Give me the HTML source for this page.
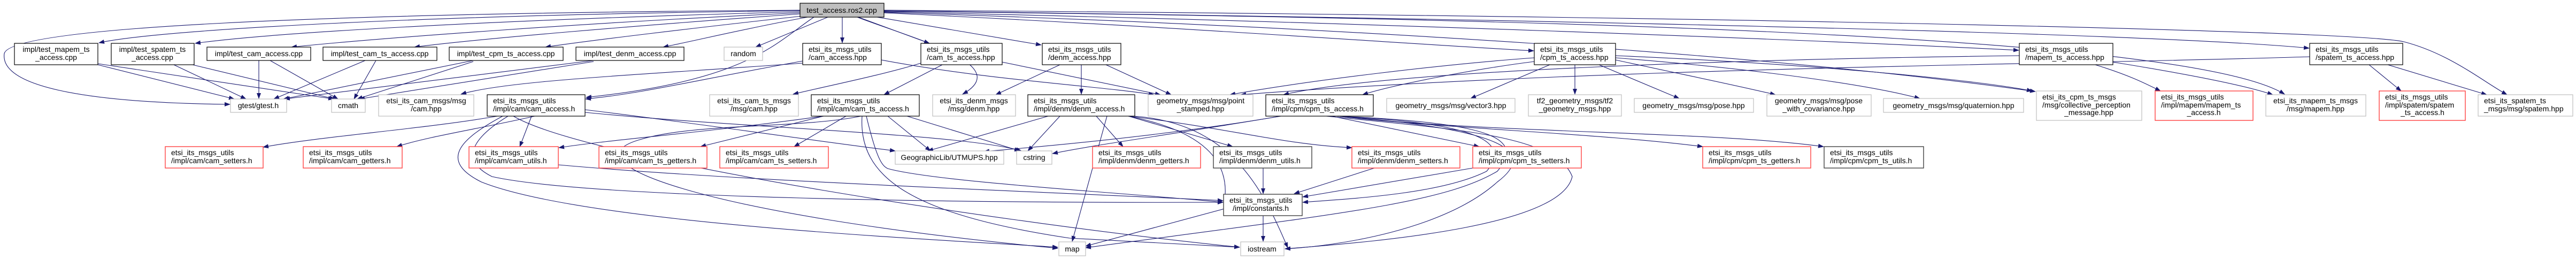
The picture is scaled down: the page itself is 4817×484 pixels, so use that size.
<!DOCTYPE html>
<html><head><meta charset="utf-8"><style>
html,body{margin:0;padding:0;background:#fff;}
svg{display:block;}
text{font-family:"Liberation Sans",sans-serif;font-size:14px;fill:#000;}
.b{fill:#fff;stroke:#000;stroke-width:1.2}
.g{fill:#fff;stroke:#bfbfbf;stroke-width:1.2}
.r{fill:#fff;stroke:#ff4040;stroke-width:1.4}
.d{fill:#fff;stroke:#404040;stroke-width:1.4}
.e path{fill:none;stroke:#191970;stroke-width:1.1;marker-end:url(#a)}
.c{text-anchor:middle}
</style></head><body>
<svg width="4817" height="484" viewBox="0 0 4817 484" xmlns="http://www.w3.org/2000/svg">
<defs><marker id="a" markerWidth="11" markerHeight="8" refX="10" refY="4" orient="auto" markerUnits="userSpaceOnUse"><path d="M0,0 L11,4 L0,8 z" fill="#191970"/></marker></defs>
<g class="e">
<!-- root edges -->
<path d="M1496,20 C800,28 300,55 185,80"/>
<path d="M1496,22 C900,38 500,62 365,81"/>
<path d="M1496,24 C1100,42 700,72 545,88"/>
<path d="M1496,26 C1200,47 900,72 775,88"/>
<path d="M1500,30 C1300,52 1100,76 1020,88"/>
<path d="M1510,32 C1400,52 1300,76 1240,88"/>
<path d="M1548,32 L1413,88"/>
<path d="M1575,32 L1575,80"/>
<path d="M1605,32 L1738,81"/>
<path d="M1640,32 L1947,84"/>
<path d="M1653,24 C2200,50 2600,80 2868,95"/>
<path d="M1653,22 C2500,40 3400,75 3775,94"/>
<path d="M1653,20 C2800,35 4000,60 4318,90"/>
<path d="M1653,19 C3000,28 4400,55 4495,78 C4580,100 4640,150 4688,177"/>
<path d="M1653,21 C3000,35 4100,70 4272,176"/>
<path d="M1653,23 C2500,50 3300,100 3806,171"/>
<path d="M1496,19 C600,25 20,50 8,100 C0,160 150,192 430,195"/>
<path d="M1522,32 C1450,80 1400,150 1096,182"/>
<path d="M1603,32 C1700,70 1900,120 1800,176"/>
<!-- test cpp edges -->
<path d="M183,121 L438,185"/><path d="M183,119 L624,185"/>
<path d="M325,121 L460,185"/><path d="M360,121 L626,185"/>
<path d="M484,113 L484,184"/><path d="M505,113 L632,185"/>
<path d="M683,113 L512,185"/><path d="M703,113 L662,185"/>
<path d="M885,113 L530,185"/><path d="M885,115 L668,185"/>
<path d="M1110,113 L532,185"/><path d="M1110,115 L672,185"/>
<!-- *_access.hpp edges -->
<path d="M1501,118 C1200,140 950,150 862,176"/>
<path d="M1501,114 C1300,150 1200,175 1095,185"/>
<path d="M1648,112 C1850,150 2050,160 2158,177"/>
<path d="M1722,118 C1650,140 1550,160 1483,176"/>
<path d="M1762,121 L1653,177"/>
<path d="M1874,116 L2170,177"/>
<path d="M1982,121 L1862,177"/>
<path d="M2022,121 L2022,176"/>
<path d="M2068,121 L2190,177"/>
<path d="M2869,108 C2700,120 2450,150 2300,177"/>
<path d="M2869,115 C2750,130 2600,160 2548,177"/>
<path d="M2898,121 L2750,184"/>
<path d="M2945,121 L2945,176"/>
<path d="M2990,121 L3140,184"/>
<path d="M3021,112 C3150,140 3250,160 3320,177"/>
<path d="M3021,108 C3300,130 3500,160 3590,184"/>
<path d="M3021,104 C3400,120 3700,150 3800,170"/>
<path d="M3776,104 C3300,110 2600,130 2400,177"/>
<path d="M3918,121 C3980,140 4010,155 4040,170"/>
<path d="M3951,116 C4100,140 4200,160 4250,177"/>
<path d="M4319,106 C3900,120 3000,125 2320,177"/>
<path d="M4430,121 L4490,170"/>
<path d="M4465,121 L4650,177"/>
<!-- cam_access.h -->
<path d="M930,217 C800,240 600,255 492,275"/>
<path d="M1000,217 C900,240 800,255 742,274"/>
<path d="M994,217 L972,274"/>
<path d="M1094,205 C1300,230 1500,260 1674,282"/>
<path d="M1094,210 C1400,240 1800,250 1910,282"/>
<path d="M950,217 C880,260 860,300 920,330 C1100,370 1800,380 2287,378"/>
<path d="M940,217 C860,260 820,300 900,340 C1100,420 1800,450 1978,462"/>
<path d="M960,217 C1100,300 1900,420 2318,462"/>
<!-- cam_ts_access.h -->
<path d="M1540,217 C1300,250 1150,260 1045,276"/>
<path d="M1540,217 L1310,274"/>
<path d="M1582,217 L1485,274"/>
<path d="M1660,217 L1740,282"/>
<path d="M1696,217 L1907,282"/>
<path d="M1620,217 C1640,300 1650,310 1660,315 C1750,340 2100,360 2287,378"/>
<path d="M1612,217 C1605,330 1700,400 2000,445 L2318,462"/>
<path d="M1610,217 C1500,240 1300,230 1200,260 C1050,300 1300,400 1978,464"/>
<!-- denm_access.h -->
<path d="M1960,217 L1735,282"/>
<path d="M1982,217 L1922,282"/>
<path d="M2050,217 L2100,274"/>
<path d="M2110,217 L2305,274"/>
<path d="M2070,217 L2005,451"/>
<path d="M2110,217 C2300,240 2400,270 2528,276"/>
<path d="M2110,217 C2250,245 2300,300 2290,375"/>
<path d="M2120,217 C2300,230 2360,350 2408,463"/>
<!-- cpm_ts_access.h -->
<path d="M2395,217 C2200,250 2000,270 1840,283"/>
<path d="M2395,217 C2200,250 2050,270 1968,287"/>
<path d="M2490,217 L2766,274"/>
<path d="M2500,217 C2700,240 3000,250 3184,274"/>
<path d="M2500,217 C2800,250 3200,245 3410,274"/>
<path d="M2500,217 C2750,230 2830,260 2780,320 C2700,360 2550,370 2436,378"/>
<path d="M2500,217 C2800,230 2850,260 2800,320 C2700,380 2500,400 2030,463"/>
<path d="M2500,217 C2800,240 2880,280 2800,340 C2700,430 2500,460 2403,465"/>
<path d="M2480,217 C2700,240 2910,250 2940,330 C2920,420 2600,450 2403,465"/>
<!-- utils/setters to constants -->
<path d="M2362,314 L2362,362"/>
<path d="M2570,314 L2420,362"/>
<path d="M2754,314 L2436,368"/>
<path d="M1044,308 C1400,340 2000,360 2287,375"/>
<path d="M2290,390 L2030,460"/>
<path d="M2362,403 L2362,451"/>
</g>
<!-- nodes -->
<rect x="1496" y="6" width="157" height="26" fill="#bfbfbf" stroke="#000" stroke-width="1.2"/><text x="1574" y="24" class="c">test_access.ros2.cpp</text>

<rect class="b" x="27" y="81" width="156" height="40"/><text x="105" y="97" class="c">impl/test_mapem_ts</text><text x="105" y="112" class="c">_access.cpp</text>
<rect class="b" x="208" y="81" width="155" height="40"/><text x="285" y="97" class="c">impl/test_spatem_ts</text><text x="285" y="112" class="c">_access.cpp</text>
<rect class="b" x="387" y="88" width="194" height="25"/><text x="484" y="105" class="c">impl/test_cam_access.cpp</text>
<rect class="b" x="604" y="88" width="213" height="25"/><text x="710" y="105" class="c">impl/test_cam_ts_access.cpp</text>
<rect class="b" x="840" y="88" width="213" height="25"/><text x="946" y="105" class="c">impl/test_cpm_ts_access.cpp</text>
<rect class="b" x="1077" y="88" width="202" height="25"/><text x="1178" y="105" class="c">impl/test_denm_access.cpp</text>
<rect class="g" x="1354" y="88" width="72" height="25"/><text x="1390" y="105" class="c">random</text>
<rect class="b" x="1501" y="81" width="147" height="40"/><text x="1512" y="97">etsi_its_msgs_utils</text><text x="1512" y="112">/cam_access.hpp</text>
<rect class="b" x="1722" y="81" width="152" height="40"/><text x="1733" y="97">etsi_its_msgs_utils</text><text x="1733" y="112">/cam_ts_access.hpp</text>
<rect class="b" x="1949" y="81" width="147" height="40"/><text x="1960" y="97">etsi_its_msgs_utils</text><text x="1960" y="112">/denm_access.hpp</text>
<rect class="b" x="2869" y="81" width="152" height="40"/><text x="2880" y="97">etsi_its_msgs_utils</text><text x="2880" y="112">/cpm_ts_access.hpp</text>
<rect class="b" x="3776" y="81" width="175" height="40"/><text x="3787" y="97">etsi_its_msgs_utils</text><text x="3787" y="112">/mapem_ts_access.hpp</text>
<rect class="b" x="4319" y="81" width="174" height="40"/><text x="4330" y="97">etsi_its_msgs_utils</text><text x="4330" y="112">/spatem_ts_access.hpp</text>

<rect class="g" x="431" y="185" width="105" height="25"/><text x="483" y="202" class="c">gtest/gtest.h</text>
<rect class="g" x="620" y="185" width="63" height="25"/><text x="651" y="202" class="c">cmath</text>
<rect class="g" x="708" y="177" width="178" height="40"/><text x="797" y="193" class="c">etsi_its_cam_msgs/msg</text><text x="797" y="208" class="c">/cam.hpp</text>
<rect class="b" x="911" y="177" width="183" height="40"/><text x="922" y="193">etsi_its_msgs_utils</text><text x="922" y="208">/impl/cam/cam_access.h</text>
<rect class="g" x="1327" y="177" width="166" height="40"/><text x="1410" y="193" class="c">etsi_its_cam_ts_msgs</text><text x="1410" y="208" class="c">/msg/cam.hpp</text>
<rect class="b" x="1517" y="177" width="202" height="40"/><text x="1528" y="193">etsi_its_msgs_utils</text><text x="1528" y="208">/impl/cam/cam_ts_access.h</text>
<rect class="g" x="1744" y="177" width="155" height="40"/><text x="1821" y="193" class="c">etsi_its_denm_msgs</text><text x="1821" y="208" class="c">/msg/denm.hpp</text>
<rect class="b" x="1922" y="177" width="200" height="40"/><text x="1933" y="193">etsi_its_msgs_utils</text><text x="1933" y="208">/impl/denm/denm_access.h</text>
<rect class="g" x="2147" y="177" width="196" height="40"/><text x="2245" y="193" class="c">geometry_msgs/msg/point</text><text x="2245" y="208" class="c">_stamped.hpp</text>
<rect class="b" x="2367" y="177" width="201" height="40"/><text x="2378" y="193">etsi_its_msgs_utils</text><text x="2378" y="208">/impl/cpm/cpm_ts_access.h</text>
<rect class="g" x="2593" y="184" width="240" height="26"/><text x="2713" y="202" class="c">geometry_msgs/msg/vector3.hpp</text>
<rect class="g" x="2858" y="177" width="174" height="40"/><text x="2945" y="193" class="c">tf2_geometry_msgs/tf2</text><text x="2945" y="208" class="c">_geometry_msgs.hpp</text>
<rect class="g" x="3056" y="184" width="223" height="26"/><text x="3167" y="202" class="c">geometry_msgs/msg/pose.hpp</text>
<rect class="g" x="3304" y="177" width="195" height="40"/><text x="3401" y="193" class="c">geometry_msgs/msg/pose</text><text x="3401" y="208" class="c">_with_covariance.hpp</text>
<rect class="g" x="3522" y="184" width="262" height="26"/><text x="3653" y="202" class="c">geometry_msgs/msg/quaternion.hpp</text>
<rect class="g" x="3808" y="170" width="197" height="55"/><text x="3819" y="186">etsi_its_cpm_ts_msgs</text><text x="3819" y="201">/msg/collective_perception</text><text x="3906" y="215" class="c">_message.hpp</text>
<rect class="r" x="4030" y="170" width="183" height="55"/><text x="4041" y="186">etsi_its_msgs_utils</text><text x="4041" y="201">/impl/mapem/mapem_ts</text><text x="4121" y="215" class="c">_access.h</text>
<rect class="g" x="4237" y="177" width="187" height="40"/><text x="4330" y="193" class="c">etsi_its_mapem_ts_msgs</text><text x="4330" y="208" class="c">/msg/mapem.hpp</text>
<rect class="r" x="4449" y="170" width="161" height="55"/><text x="4460" y="186">etsi_its_msgs_utils</text><text x="4460" y="201">/impl/spatem/spatem</text><text x="4530" y="215" class="c">_ts_access.h</text>
<rect class="g" x="4634" y="177" width="177" height="40"/><text x="4645" y="193">etsi_its_spatem_ts</text><text x="4645" y="208">_msgs/msg/spatem.hpp</text>

<rect class="r" x="309" y="274" width="183" height="40"/><text x="320" y="290">etsi_its_msgs_utils</text><text x="320" y="305">/impl/cam/cam_setters.h</text>
<rect class="r" x="567" y="274" width="185" height="40"/><text x="578" y="290">etsi_its_msgs_utils</text><text x="578" y="305">/impl/cam/cam_getters.h</text>
<rect class="r" x="877" y="274" width="167" height="40"/><text x="888" y="290">etsi_its_msgs_utils</text><text x="888" y="305">/impl/cam/cam_utils.h</text>
<rect class="r" x="1120" y="274" width="202" height="40"/><text x="1131" y="290">etsi_its_msgs_utils</text><text x="1131" y="305">/impl/cam/cam_ts_getters.h</text>
<rect class="r" x="1346" y="274" width="203" height="40"/><text x="1357" y="290">etsi_its_msgs_utils</text><text x="1357" y="305">/impl/cam/cam_ts_setters.h</text>
<rect class="g" x="1674" y="282" width="203" height="25"/><text x="1775" y="299" class="c">GeographicLib/UTMUPS.hpp</text>
<rect class="g" x="1901" y="282" width="66" height="25"/><text x="1934" y="299" class="c">cstring</text>
<rect class="r" x="2043" y="274" width="202" height="40"/><text x="2054" y="290">etsi_its_msgs_utils</text><text x="2054" y="305">/impl/denm/denm_getters.h</text>
<rect class="d" x="2269" y="274" width="184" height="40"/><text x="2280" y="290">etsi_its_msgs_utils</text><text x="2280" y="305">/impl/denm/denm_utils.h</text>
<rect class="r" x="2528" y="274" width="202" height="40"/><text x="2539" y="290">etsi_its_msgs_utils</text><text x="2539" y="305">/impl/denm/denm_setters.h</text>
<rect class="r" x="2754" y="274" width="203" height="40"/><text x="2765" y="290">etsi_its_msgs_utils</text><text x="2765" y="305">/impl/cpm/cpm_ts_setters.h</text>
<rect class="r" x="3184" y="274" width="202" height="40"/><text x="3195" y="290">etsi_its_msgs_utils</text><text x="3195" y="305">/impl/cpm/cpm_ts_getters.h</text>
<rect class="d" x="3411" y="274" width="186" height="40"/><text x="3422" y="290">etsi_its_msgs_utils</text><text x="3422" y="305">/impl/cpm/cpm_ts_utils.h</text>

<rect class="d" x="2288" y="363" width="147" height="40"/><text x="2299" y="379">etsi_its_msgs_utils</text><text x="2305" y="394">/impl/constants.h</text>
<rect class="g" x="1980" y="452" width="50" height="26"/><text x="2005" y="470" class="c">map</text>
<rect class="g" x="2320" y="452" width="81" height="26"/><text x="2360" y="470" class="c">iostream</text>
</svg>
</body></html>
